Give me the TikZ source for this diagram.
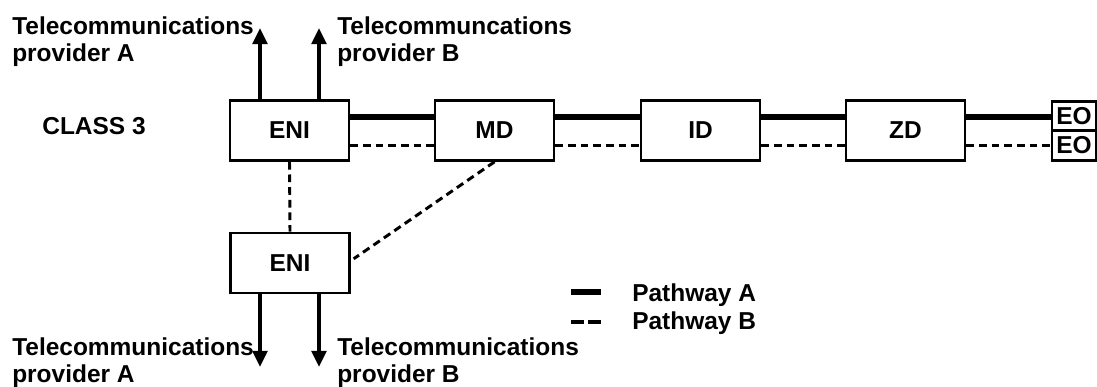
\documentclass[tikz,border=0pt]{standalone}
\usepackage{fontspec}
\setmainfont{Liberation Sans}
\usepackage{tikz}
\usetikzlibrary{positioning,arrows.meta}

\tikzset{
    unit/.style={draw, line width=1.9pt, minimum width=2.975cm, minimum height=1.5cm, inner sep=0pt},
    outlet/.style={draw, line width=1.9pt, minimum width=1.1cm, minimum height=0.74cm, inner sep=0pt},
    label/.style={align=left, anchor=north west, inner sep=0pt},
    pathA/.style={line width=4.6pt},
    pathB/.style={line width=2.1pt, dash pattern=on 5.5pt off 3.5pt},
    feed/.style={line width=2.8pt, -{Triangle[length=0.4cm, width=0.36cm]}}
}

\begin{document}
\begin{tikzpicture}[x=0.025cm, y=-0.025cm, font=\fontsize{17.4}{19.9}\selectfont\bfseries]
    \useasboundingbox (0,0) rectangle (1097,387);

    \node (class) at (94,126) {CLASS 3};

    \node[unit] (eniA) at (289.5,130.5) {ENI};
    \node[unit] (md) at (494.5,130.5) {MD};
    \node[unit] (id) at (700.5,130.5) {ID};
    \node[unit] (zd) at (905.5,130.5) {ZD};
    \node[outlet] (eo1) at (1074,116) {EO};
    \node[outlet] (eo2) at (1074,145.5) {EO};
    \node[unit] (eniB) at (290,263) {ENI};

    \node[label] (provA) at (12,16) {Telecommunications\\provider A};
    \node[label] (provB) at (337,16) {Telecommuncations\\provider B};
    \node[label] (provC) at (12,337) {Telecommunications\\provider A};
    \node[label] (provD) at (337,337) {Telecommunications\\provider B};

    \coordinate (upA) at (260,28);
    \coordinate (upB) at (319,28);
    \coordinate (downA) at (260,367);
    \coordinate (downB) at (319,367);

    % pathway A
    \draw[pathA] ([yshift=9.6pt]eniA.east) -- ([yshift=9.6pt]md.west);
    \draw[pathA] ([yshift=9.6pt]md.east) -- ([yshift=9.6pt]id.west);
    \draw[pathA] ([yshift=9.6pt]id.east) -- ([yshift=9.6pt]zd.west);
    \draw[pathA] ([yshift=9.6pt]zd.east) -- ([yshift=9.6pt]zd.east -| eo1.west);

    % pathway B
    \draw[pathB] ([yshift=-11pt]eniA.east) -- ([yshift=-11pt]md.west);
    \draw[pathB] ([yshift=-11pt]md.east) -- ([yshift=-11pt]id.west);
    \draw[pathB] ([yshift=-11pt]id.east) -- ([yshift=-11pt]zd.west);
    \draw[pathB] ([yshift=-11pt]zd.east) -- ([yshift=-11pt]zd.east -| eo2.west);
    \draw[pathB] (eniA.south) -- (eniB.north);
    \draw[pathB] (md.south) -- ([xshift=2pt, yshift=3pt]eniB.east);

    % providers
    \draw[feed] (eniA.north -| upA) -- (upA);
    \draw[feed] (eniA.north -| upB) -- (upB);
    \draw[feed] (eniB.south -| downA) -- (downA);
    \draw[feed] (eniB.south -| downB) -- (downB);

    % legend
    \draw[pathA] (571,292) -- (601,292);
    \draw[line width=2.6pt, dash pattern=on 9.2pt off 3pt] (571,322) -- (601,322);
    \node[label] (legA) at (632,283) {Pathway A};
    \node[label] (legB) at (632,311) {Pathway B};
\end{tikzpicture}
\end{document}
